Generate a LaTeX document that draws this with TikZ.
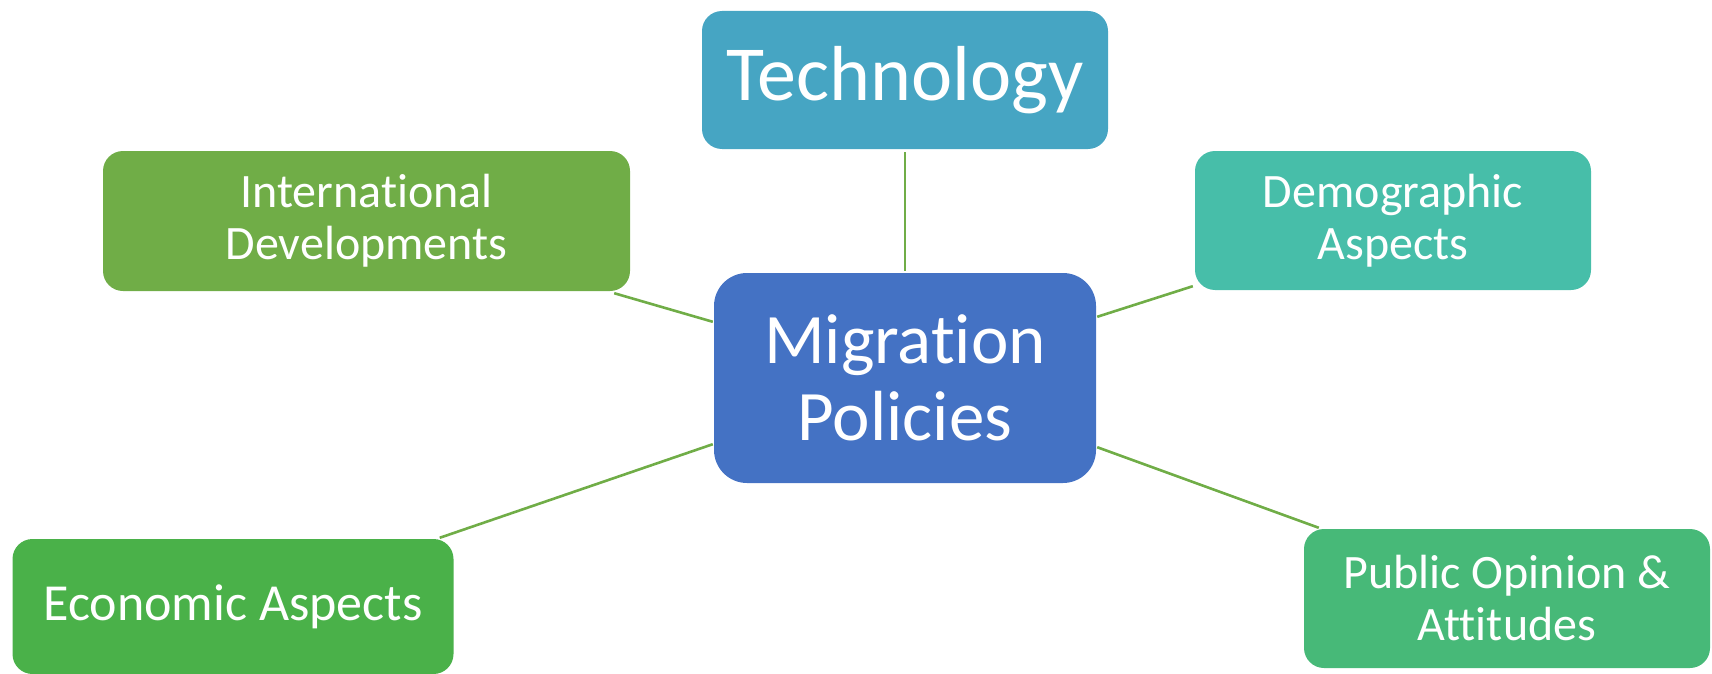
\documentclass[tikz,border=0pt]{standalone}
\usepackage{fontspec}
\setmainfont{Carlito}[Ligatures={NoCommon,NoContextual}]
\usetikzlibrary{calc}

\definecolor{techblue}{RGB}{70,165,195}
\definecolor{intlgreen}{RGB}{112,173,71}
\definecolor{mainblue}{RGB}{68,114,196}
\definecolor{econgreen}{RGB}{74,177,73}
\definecolor{demoteal}{RGB}{71,190,169}
\definecolor{pubgreen}{RGB}{71,185,120}
\definecolor{linkgreen}{RGB}{112,173,71}

\tikzset{
  topic/.style={rounded corners=20pt, inner sep=0pt, align=center,
    text=white, font=\fontsize{48}{52}\selectfont},
  link/.style={draw=linkgreen, line width=2.6pt}
}

\begin{document}
\begin{tikzpicture}[x=1pt,y=-1pt]
  \useasboundingbox (0,0) rectangle (1712,674);

  % central node
  \node[topic, fill=mainblue, rounded corners=33pt, minimum width=382pt,
        minimum height=210pt, font=\fontsize{71}{77}\selectfont]
        (main) at (905,378) {Migration\\Policies};

  % surrounding topics
  \node[topic, fill=techblue, minimum width=406pt, minimum height=138pt,
        font=\fontsize{78}{82}\selectfont]
        (tech) at (905,80) {Technology};
  \node[topic, fill=intlgreen, minimum width=527pt, minimum height=140pt]
        (intl) at (366.5,221) {International\\Developments};
  \node[topic, fill=demoteal, minimum width=396pt, minimum height=139pt]
        (demo) at (1393,220.5) {Demographic\\Aspects};
  \node[topic, fill=econgreen, minimum width=441pt, minimum height=135pt,
        font=\fontsize{52}{56}\selectfont]
        (econ) at (233,606.5) {Economic Aspects};
  \node[topic, fill=pubgreen, minimum width=406pt, minimum height=139pt]
        (pub) at (1507,598.5) {Public Opinion \&\\Attitudes};

  % connectors
  \draw[link] ($(tech.south)+(0,3)$) -- ($(main.north)+(0,-2)$);
  \draw[link] ($(intl.south east)+(-16,2)$) -- ($(main.north west)+(-1,49)$);
  \draw[link] ($(main.north east)+(1,44)$) -- ($(demo.south west)+(-2,-4)$);
  \draw[link] ($(econ.north east)+(-14,-1)$) -- ($(main.south west)+(-1,-39)$);
  \draw[link] ($(main.south east)+(1,-36)$) -- ($(pub.north west)+(15,-1)$);
\end{tikzpicture}
\end{document}
